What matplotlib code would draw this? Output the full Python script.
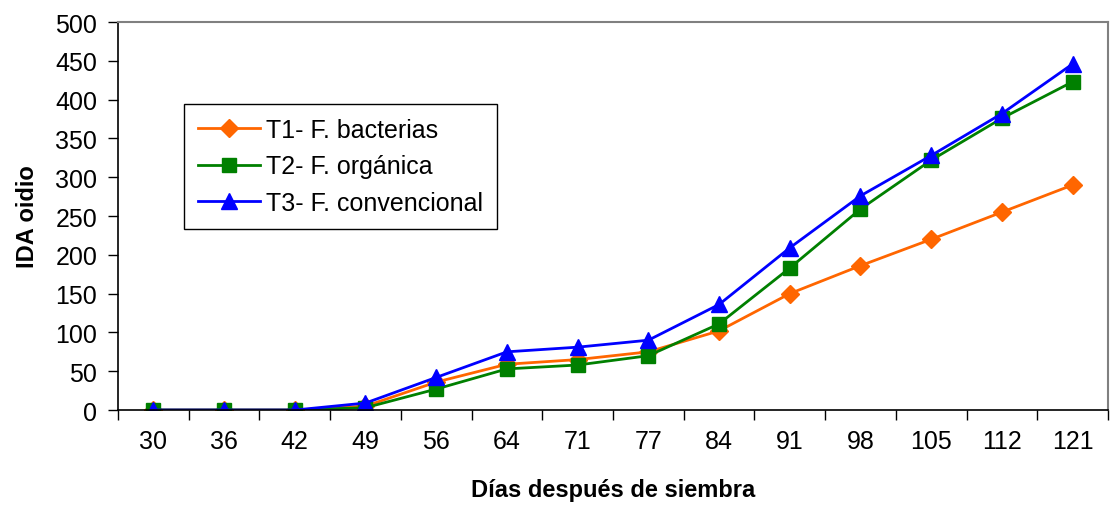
import matplotlib.pyplot as plt
import numpy as np

plt.rcParams['font.family'] = ['Liberation Sans', 'DejaVu Sans']

# data
dias = ['30', '36', '42', '49', '56', '64', '71', '77', '84', '91', '98', '105', '112', '121']
t1_bacterias = [0, 0, 0, 5, 36, 59, 65, 75, 102, 150, 186, 220, 255, 290]
t2_organica = [0, 0, 0, 3, 27, 53, 58, 70, 111, 183, 259, 322, 376, 423]
t3_convencional = [0, 0, 0, 9, 42, 75, 81, 90, 136, 209, 276, 328, 382, 446]
labels = ['T1- F. bacterias', 'T2- F. orgánica', 'T3- F. convencional']

fig = plt.figure(figsize=(11.11, 5.06), dpi=100)
ax = fig.add_axes([0.1062, 0.1877, 0.8911, 0.7668])

x = np.arange(len(dias))
ax.plot(x, t1_bacterias, color='#FF6600', marker='D', markersize=9, lw=2, label=labels[0])
ax.plot(x, t2_organica, color='#008000', marker='s', markersize=10, lw=2, label=labels[1])
ax.plot(x, t3_convencional, color='#0000FF', marker='^', markersize=11, lw=2, label=labels[2])

ax.set_xlim(-0.5, len(dias) - 0.5)
ax.set_ylim(0, 500)
ax.set_yticks(np.arange(0, 501, 50))

# category labels centred, tick marks between categories
ax.set_xticks(x)
ax.set_xticklabels(dias)
ax.tick_params(axis='x', which='major', length=0, pad=14, labelsize=18)
ax.set_xticks(np.arange(-0.5, len(dias), 1), minor=True)
ax.tick_params(axis='x', which='minor', length=7, width=1, direction='out')
ax.tick_params(axis='y', length=7, width=1, pad=8, labelsize=18)

for s in ['top', 'right']:
    ax.spines[s].set_color('#808080')
    ax.spines[s].set_linewidth(1.5)
for s in ['left', 'bottom']:
    ax.spines[s].set_color('black')
    ax.spines[s].set_linewidth(1.2)

ax.set_xlabel('Días después de siembra', fontsize=17, fontweight='bold', va='center')
ax.set_ylabel('IDA oidio', fontsize=17, fontweight='bold', va='center')
ax.xaxis.set_label_coords(0.5, -0.204)
ax.yaxis.set_label_coords(-0.091, 0.5)

leg = ax.legend(loc='upper left', bbox_to_anchor=(184 / 1111, 1 - 105 / 506),
                bbox_transform=fig.transFigure, borderaxespad=0, fontsize=18,
                fancybox=False, framealpha=1, edgecolor='black',
                handlelength=2.5, labelspacing=0.5, handletextpad=0.25, borderpad=0.55)
leg.get_frame().set_linewidth(1)

fig.savefig('out.png', dpi=100)
